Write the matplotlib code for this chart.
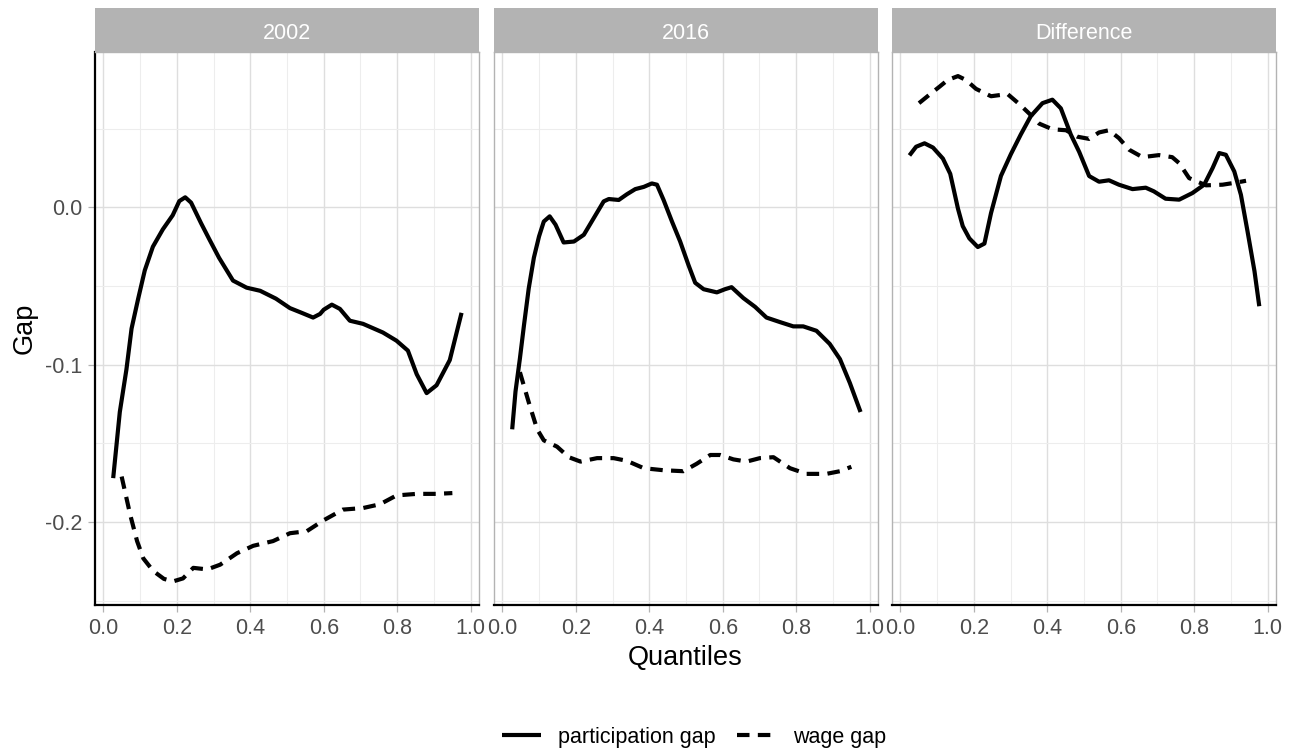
import matplotlib.pyplot as plt
from matplotlib.lines import Line2D
from matplotlib.ticker import FixedLocator, FuncFormatter

plt.rcParams['font.family'] = ['Liberation Sans', 'DejaVu Sans']

panels = ['2002', '2016', 'Difference']

# 2002
q_part_2002 = [0.027, 0.045, 0.063, 0.077, 0.095, 0.113, 0.135, 0.162, 0.189, 0.207, 0.223, 0.239,
               0.266, 0.288, 0.315, 0.353, 0.39, 0.427, 0.47, 0.508, 0.54, 0.571, 0.59, 0.6, 0.622,
               0.644, 0.671, 0.707, 0.761, 0.798, 0.829, 0.853, 0.88, 0.907, 0.943, 0.975]
part_2002 = [-0.172, -0.130, -0.103, -0.077, -0.058, -0.040, -0.025, -0.014, -0.005, 0.004, 0.0064,
             0.003, -0.010, -0.020, -0.032, -0.0465, -0.051, -0.053, -0.058, -0.064, -0.067, -0.070,
             -0.0677, -0.065, -0.0618, -0.0645, -0.072, -0.074, -0.0795, -0.0847, -0.091, -0.106,
             -0.118, -0.113, -0.097, -0.067]
q_wage_2002 = [0.05, 0.073, 0.092, 0.109, 0.136, 0.165, 0.19, 0.217, 0.245, 0.283, 0.318, 0.364,
               0.408, 0.462, 0.508, 0.554, 0.598, 0.652, 0.707, 0.753, 0.798, 0.853, 0.907, 0.95]
wage_2002 = [-0.171, -0.195, -0.212, -0.223, -0.231, -0.236, -0.2376, -0.2357, -0.229, -0.230,
             -0.227, -0.2197, -0.215, -0.212, -0.207, -0.2057, -0.199, -0.192, -0.191, -0.1886,
             -0.183, -0.182, -0.182, -0.1815]

# 2016
q_part_2016 = [0.027, 0.036, 0.048, 0.059, 0.072, 0.086, 0.1, 0.113, 0.129, 0.145, 0.167, 0.195,
               0.222, 0.249, 0.276, 0.29, 0.317, 0.339, 0.362, 0.385, 0.407, 0.421, 0.439, 0.462,
               0.484, 0.507, 0.525, 0.548, 0.584, 0.606, 0.624, 0.656, 0.688, 0.719, 0.756, 0.792,
               0.819, 0.855, 0.891, 0.919, 0.946, 0.975]
part_2016 = [-0.141, -0.117, -0.096, -0.075, -0.0515, -0.032, -0.0185, -0.009, -0.0057, -0.011,
             -0.0223, -0.0217, -0.0174, -0.0068, 0.0038, 0.0053, 0.0047, 0.0083, 0.0116, 0.013,
             0.0152, 0.0144, 0.0047, -0.0091, -0.0216, -0.0368, -0.0479, -0.052, -0.054, -0.052,
             -0.0507, -0.0576, -0.0632, -0.070, -0.0729, -0.0756, -0.0756, -0.0784, -0.0867,
             -0.0964, -0.1116, -0.130]
q_wage_2016 = [0.048, 0.072, 0.095, 0.113, 0.149, 0.181, 0.213, 0.258, 0.303, 0.339, 0.385, 0.439,
               0.493, 0.529, 0.566, 0.593, 0.629, 0.665, 0.701, 0.738, 0.783, 0.828, 0.882, 0.919, 0.95]
wage_2016 = [-0.1047, -0.1238, -0.141, -0.148, -0.152, -0.1587, -0.1615, -0.1593, -0.1593, -0.161,
             -0.1657, -0.167, -0.1676, -0.1629, -0.1573, -0.1573, -0.1601, -0.1615, -0.1593,
             -0.1587, -0.1657, -0.1693, -0.1693, -0.1676, -0.1648]

# Difference
q_part_diff = [0.025, 0.043, 0.066, 0.089, 0.116, 0.136, 0.157, 0.17, 0.188, 0.211, 0.229, 0.247,
               0.274, 0.301, 0.328, 0.355, 0.387, 0.414, 0.437, 0.464, 0.487, 0.514, 0.541, 0.568,
               0.595, 0.632, 0.668, 0.69, 0.722, 0.759, 0.795, 0.827, 0.85, 0.868, 0.886, 0.909,
               0.927, 0.945, 0.964, 0.977]
part_diff = [0.033, 0.0385, 0.0407, 0.038, 0.031, 0.0213, -0.0008, -0.0119, -0.0197, -0.0252,
             -0.023, -0.0036, 0.02, 0.0338, 0.0463, 0.0579, 0.0662, 0.0684, 0.0629, 0.0463, 0.0352,
             0.0199, 0.0163, 0.0172, 0.0144, 0.0116, 0.0125, 0.0102, 0.0055, 0.0049, 0.0091,
             0.0144, 0.025, 0.0345, 0.0334, 0.0228, 0.008, -0.0152, -0.0406, -0.0628]
q_wage_diff = [0.051, 0.08, 0.107, 0.129, 0.157, 0.179, 0.206, 0.247, 0.292, 0.324, 0.351, 0.378,
               0.414, 0.451, 0.482, 0.514, 0.541, 0.568, 0.595, 0.623, 0.659, 0.704, 0.74, 0.759,
               0.786, 0.832, 0.877, 0.918, 0.941]
wage_diff = [0.0662, 0.0717, 0.0767, 0.0809, 0.0834, 0.0809, 0.0753, 0.0706, 0.072, 0.0656, 0.0596,
             0.0532, 0.0496, 0.049, 0.0449, 0.0435, 0.0476, 0.049, 0.044, 0.0366, 0.0319, 0.0332,
             0.0319, 0.0281, 0.0186, 0.014, 0.0144, 0.0159, 0.0169]

series = [
    (q_part_2002, part_2002, q_wage_2002, wage_2002),
    (q_part_2016, part_2016, q_wage_2016, wage_2016),
    (q_part_diff, part_diff, q_wage_diff, wage_diff),
]

W, H = 1297, 751
fig = plt.figure(figsize=(W / 100, H / 100), dpi=100)

lefts = [95, 494, 892]
pw = 384
top, bottom = 52, 605
strip_top = 8

grey70 = '#B3B3B3'
dash = (0, (3, 2))

for i, (name, (qp, p, qw, w)) in enumerate(zip(panels, series)):
    ax = fig.add_axes([lefts[i] / W, (H - bottom) / H, pw / W, (bottom - top) / H])
    ax.plot(qp, p, color='black', lw=3.0, solid_capstyle='butt', solid_joinstyle='round')
    ax.plot(qw, w, color='black', lw=3.0, linestyle=dash, dash_capstyle='butt')
    ax.set_xlim(-0.0225, 1.0225)
    ax.set_ylim(-0.2526, 0.0987)

    ax.xaxis.set_major_locator(FixedLocator([0, 0.2, 0.4, 0.6, 0.8, 1.0]))
    ax.xaxis.set_minor_locator(FixedLocator([0.1, 0.3, 0.5, 0.7, 0.9]))
    ax.yaxis.set_major_locator(FixedLocator([-0.2, -0.1, 0.0]))
    ax.yaxis.set_minor_locator(FixedLocator([-0.25, -0.15, -0.05, 0.05]))
    ax.xaxis.set_major_formatter(FuncFormatter(lambda v, _: f'{v:.1f}'))
    ax.yaxis.set_major_formatter(FuncFormatter(lambda v, _: f'{v:.1f}'.replace('\u2212', '-')))

    ax.grid(which='major', color='#DEDEDE', lw=1.0)
    ax.grid(which='minor', color='#EDEDED', lw=0.8)
    ax.set_axisbelow(True)
    ax.tick_params(which='major', color=grey70, length=5, width=0.9,
                   labelsize=15.5, labelcolor='#4D4D4D', pad=4)
    ax.tick_params(which='minor', length=0)

    for s in ['top', 'right', 'left']:
        ax.spines[s].set_color(grey70)
        ax.spines[s].set_linewidth(1.0)
    ax.spines['bottom'].set_color('black')
    ax.spines['bottom'].set_linewidth(1.6)
    if i == 0:
        ax.spines['left'].set_color('black')
        ax.spines['left'].set_linewidth(1.6)
    else:
        ax.tick_params(axis='y', which='major', length=0, labelleft=False)

    # facet strip
    sax = fig.add_axes([lefts[i] / W, (H - top) / H, pw / W, (top - strip_top) / H])
    sax.set_facecolor(grey70)
    sax.set_xticks([])
    sax.set_yticks([])
    for s in sax.spines.values():
        s.set_visible(False)
    sax.text(0.5, 0.47, name, color='white', fontsize=15.5, ha='center', va='center_baseline',
             transform=sax.transAxes)

fig.text(0.019, (H - (top + bottom) / 2) / H, 'Gap', rotation=90, fontsize=19.5,
         ha='center', va='center')
fig.text((lefts[0] + lefts[2] + pw) / 2 / W, (H - 658) / H, 'Quantiles', fontsize=19.5,
         ha='center', va='center')

handles = [Line2D([], [], color='black', lw=3.0, solid_capstyle='butt'),
           Line2D([], [], color='black', lw=3.0, linestyle=dash, dash_capstyle='butt')]
fig.legend(handles, ['participation gap', 'wage gap'], loc='center',
           bbox_to_anchor=(0.535, (H - 737) / H), ncol=2, frameon=False, fontsize=15.5,
           handlelength=1.8, handletextpad=0.8, columnspacing=1.0)

fig.savefig('out.png', dpi=100)
